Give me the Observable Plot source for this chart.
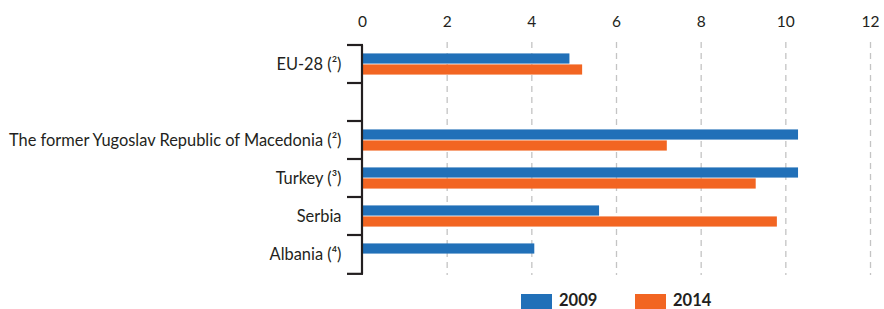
<!DOCTYPE html>
<html>
<head>
<meta charset="utf-8">
<script src="https://cdn.jsdelivr.net/npm/d3@7"></script>
<script src="https://cdn.jsdelivr.net/npm/@observablehq/plot@0.6"></script>
<style>
  body { margin: 0; background: #fff; font-family: Lato, "Open Sans", sans-serif; }
  #wrap { position: relative; width: 884px; height: 309px; overflow: hidden; }
  #legend { position: absolute; top: 292px; left: 0; width: 884px; height: 17px; }
  .item { position: absolute; top: 0; height: 17px; }
  .sw { position: absolute; left: 0; top: 2px; width: 31px; height: 15px; }
  .lab { position: absolute; left: 38px; top: 0; font-weight: bold; font-size: 16.5px; color: #231f20; line-height: 17px; white-space: nowrap; }
</style>
</head>
<body>
<div id="wrap"><div id="chart"></div><div id="legend"></div></div>
<script>
const categories = ["EU-28 (²)", " ", "The former Yugoslav Republic of Macedonia (²)", "Turkey (³)", "Serbia", "Albania (⁴)"];
const values2009 = [4.9, null, 10.3, 10.3, 5.6, 4.07];
const values2014 = [5.2, null, 7.2, 9.3, 9.8, null];
const years = ["2009", "2014"];
const colors = ["#2170b8", "#f26522"];
const xTicks = [0, 2, 4, 6, 8, 10, 12];

const rows2009 = categories.map((c, i) => ({cat: c, value: values2009[i]})).filter(d => d.value != null);
const rows2014 = categories.map((c, i) => ({cat: c, value: values2014[i]})).filter(d => d.value != null);

const W = 884, H = 285, mT = 42, mB = 10, mL = 362, mR = 14;
const bw = (H - mT - mB) / categories.length;
const barH = 11;
const pad = (bw - 2 * barH) / 2;

const axisMark = (index, scales) => {
  const g = d3.create("svg:g");
  const y = scales.y;
  const x = scales.x;
  const x0 = x(0);
  const edges = categories.map(c => y(c)).concat([y(categories[categories.length - 1]) + bw]);
  g.append("line").attr("x1", x0).attr("x2", x0).attr("y1", edges[0]).attr("y2", edges[edges.length - 1])
    .attr("stroke", "#231f20").attr("stroke-width", 2.2);
  for (const e of edges) {
    g.append("line").attr("x1", x0 - 15).attr("x2", x0 + 1).attr("y1", e).attr("y2", e)
      .attr("stroke", "#231f20").attr("stroke-width", 2.2);
  }
  return g.node();
};

const chart = Plot.plot({
  width: W, height: H,
  marginTop: mT, marginBottom: mB, marginLeft: mL, marginRight: mR,
  style: {fontFamily: "Lato, 'Open Sans', sans-serif", fontSize: "15px", color: "#231f20", background: "#fff"},
  x: {domain: [0, 12], ticks: xTicks, label: null},
  y: {domain: categories, padding: 0, align: 0.5, label: null},
  marks: [
    Plot.ruleX(xTicks.filter(t => t > 0), {x: d => d, stroke: "#c4c4c4", strokeWidth: 1.3, strokeDasharray: "6,5"}),
    Plot.barX(rows2009, {x: "value", y: "cat", fill: colors[0], insetTop: pad, insetBottom: bw - pad - barH}),
    Plot.barX(rows2014, {x: "value", y: "cat", fill: colors[1], insetTop: pad + barH, insetBottom: pad}),
    Plot.axisX({anchor: "top", ticks: xTicks, tickSize: 0, tickPadding: 16, fontSize: 15.5, label: null, tickFormat: d => String(d)}),
    Plot.axisY({anchor: "left", tickSize: 0, tickPadding: 21, fontSize: 16.4, label: null}),
    axisMark
  ]
});
document.getElementById("chart").appendChild(chart);

const legend = document.getElementById("legend");
const lx = [521, 635];
years.forEach((yr, i) => {
  const it = document.createElement("div");
  it.className = "item";
  it.style.left = lx[i] + "px";
  it.innerHTML = `<div class="sw" style="background:${colors[i]}"></div><span class="lab">${yr}</span>`;
  legend.appendChild(it);
});
</script>
</body>
</html>
